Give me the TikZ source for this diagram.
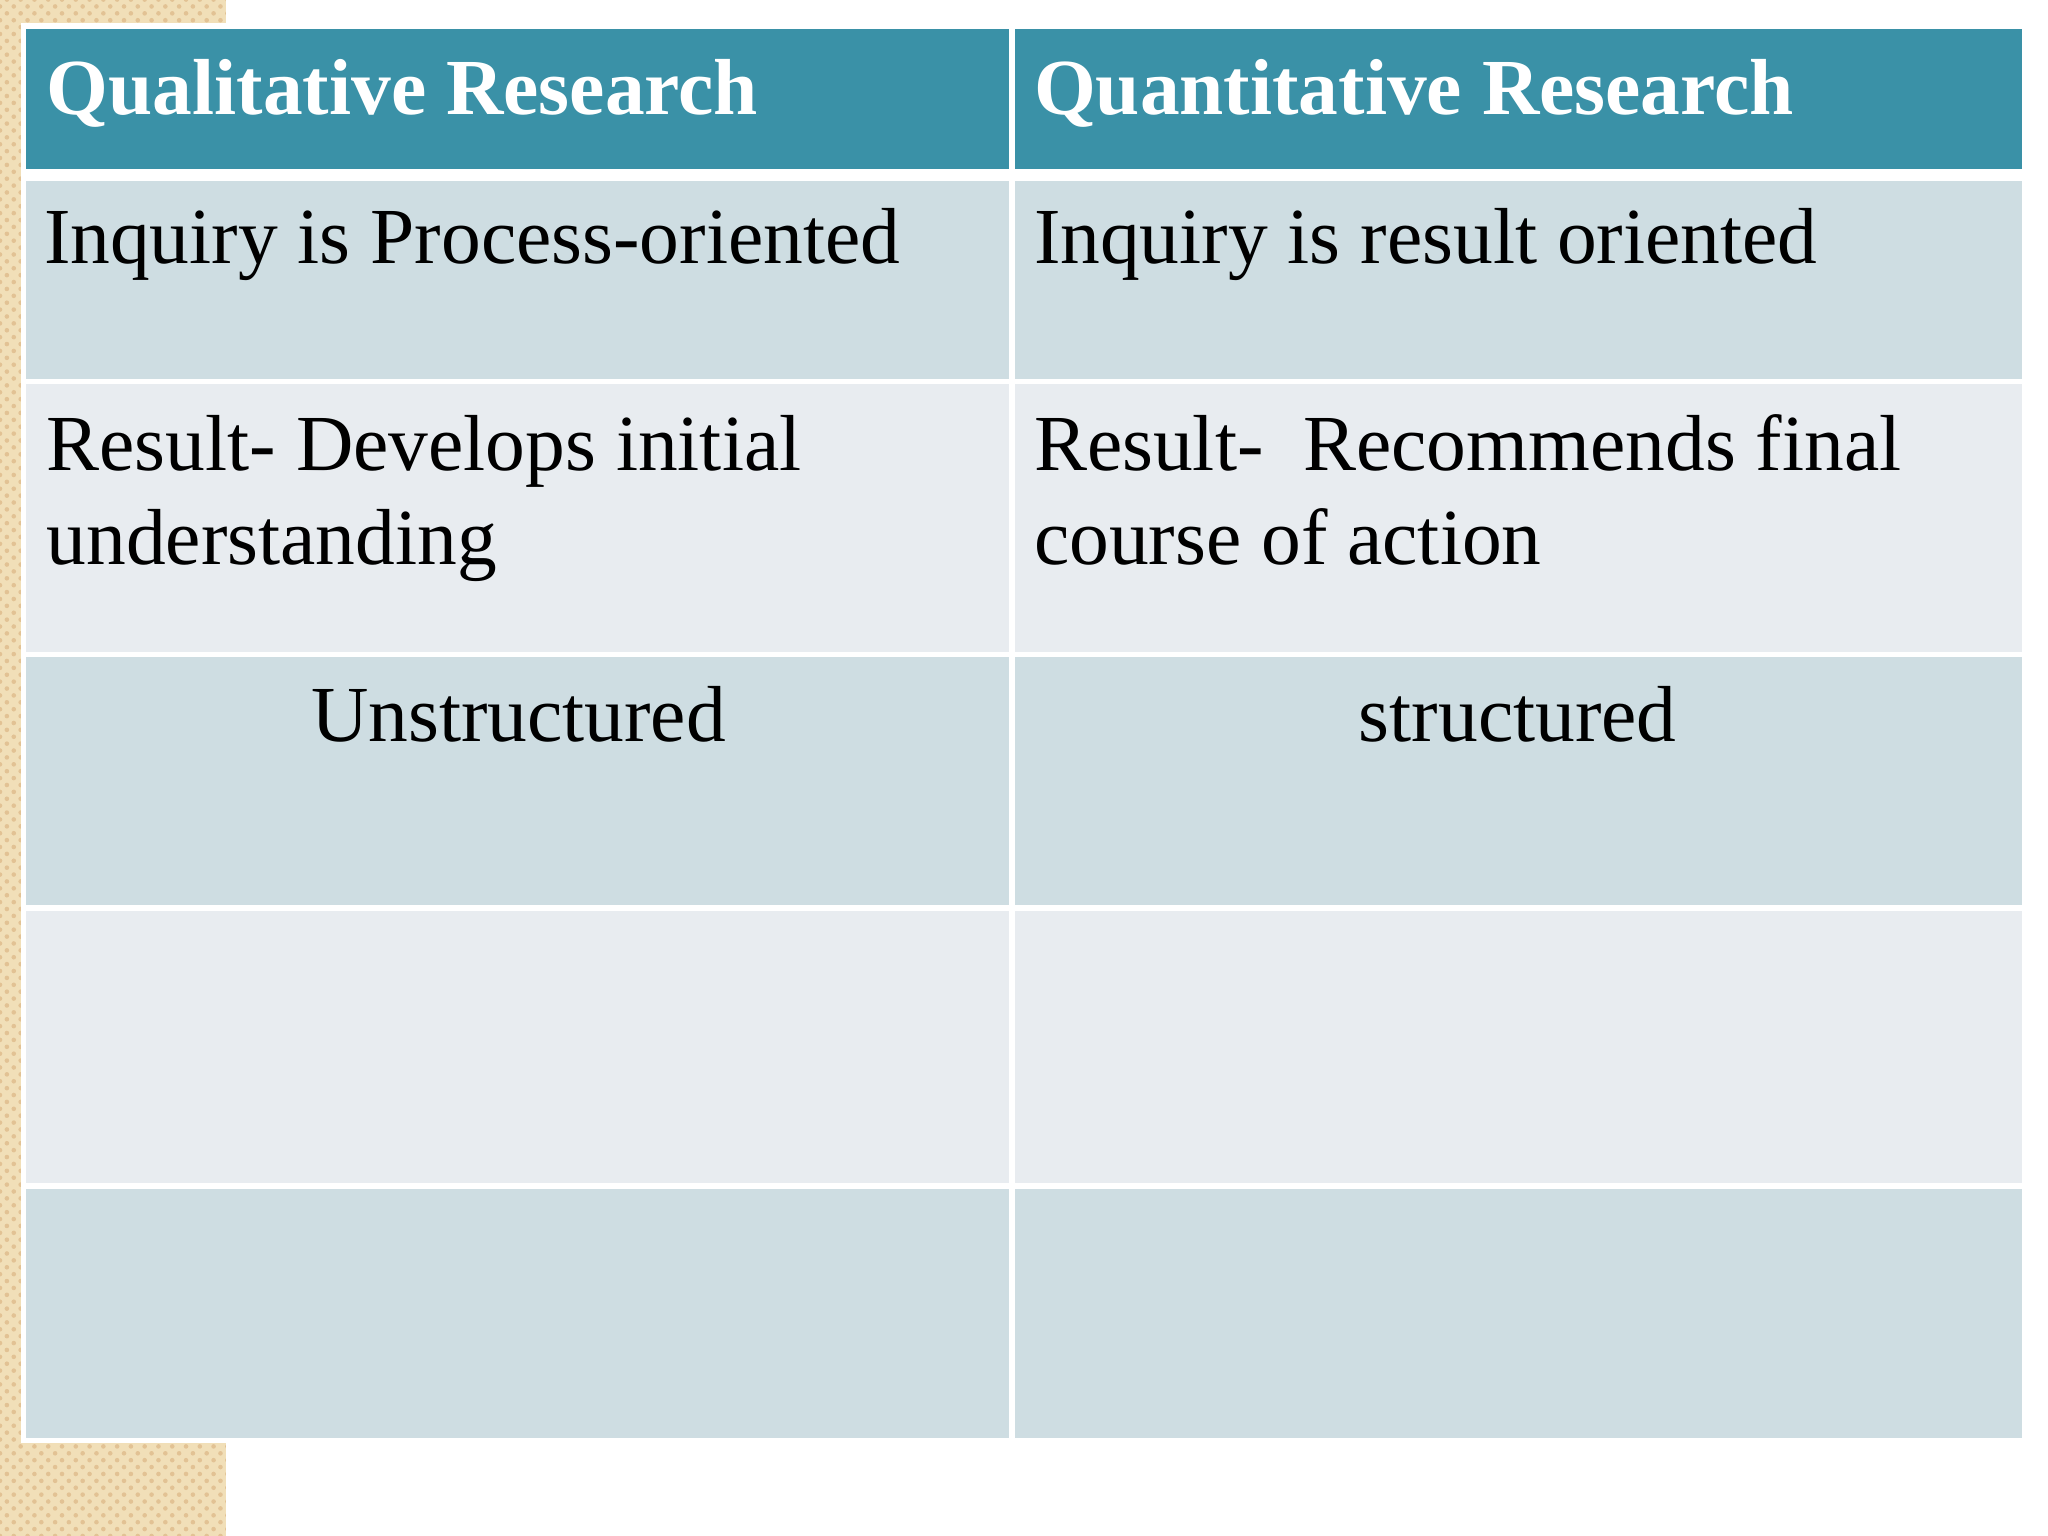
\documentclass[tikz,border=0pt]{standalone}
\usepackage{fontspec}
\setmainfont{Liberation Serif}
\usetikzlibrary{patterns}
\definecolor{hdr}{HTML}{3A91A7}
\definecolor{rowA}{HTML}{CEDDE2}
\definecolor{rowB}{HTML}{E8ECF0}
\definecolor{beige}{HTML}{F1DFB8}
\tikzset{cell/.style={draw=white,line width=1.2pt},
 txt/.style={anchor=base west,inner sep=0pt,font=\fontsize{17.3}{20.6}\selectfont},
 htxt/.style={anchor=base west,inner sep=0pt,text=white,font=\fontsize{17.3}{20.6}\selectfont\bfseries}}
\begin{document}
\begin{tikzpicture}[x=0.01cm,y=-0.01cm]
\useasboundingbox (0,0) rectangle (1568,1176);
\fill[white] (0,0) rectangle (1568,1176);
\fill[beige] (0,0) rectangle (173,1176);
\fill[pattern=crosshatch dots,pattern color=beige!70!brown] (0,0) rectangle (173,1176);
\fill[white] (16,18) rectangle (1552,1105);
\fill[hdr] (18,20) rectangle (1550,133);
\fill[rowA] (18,133) rectangle (1550,292);
\fill[rowB] (18,292) rectangle (1550,501);
\fill[rowA] (18,501) rectangle (1550,695);
\fill[rowB] (18,695) rectangle (1550,908);
\fill[rowA] (18,908) rectangle (1550,1103);
\draw[white,line width=2.5pt] (18,134) -- (1550,134);
\foreach \a/\b in {20/133,133/292,292/501,501/695,695/908,908/1103}{
 \draw[cell] (18,\a) rectangle (775,\b);
 \draw[cell] (775,\a) rectangle (1550,\b);}
\node[htxt] (h1) at (35,88) {Qualitative Research};
\node[htxt] (h2) at (791,88) {Quantitative Research};
\node[txt] (a1) at (33,202) {Inquiry is Process-oriented};
\node[txt] (b1) at (791,202) {Inquiry is result oriented};
\node[txt] (a2) at (35,360) {Result- Develops initial};
\node[txt] (a2b) at (35,432) {understanding};
\node[txt] (b2) at (791,360) {Result-\ \ Recommends final};
\node[txt] (b2b) at (791,432) {course of action};
\node[txt,anchor=base] (a3) at (397,568) {Unstructured};
\node[txt,anchor=base] (b3) at (1162,568) {structured};
\end{tikzpicture}
\end{document}
